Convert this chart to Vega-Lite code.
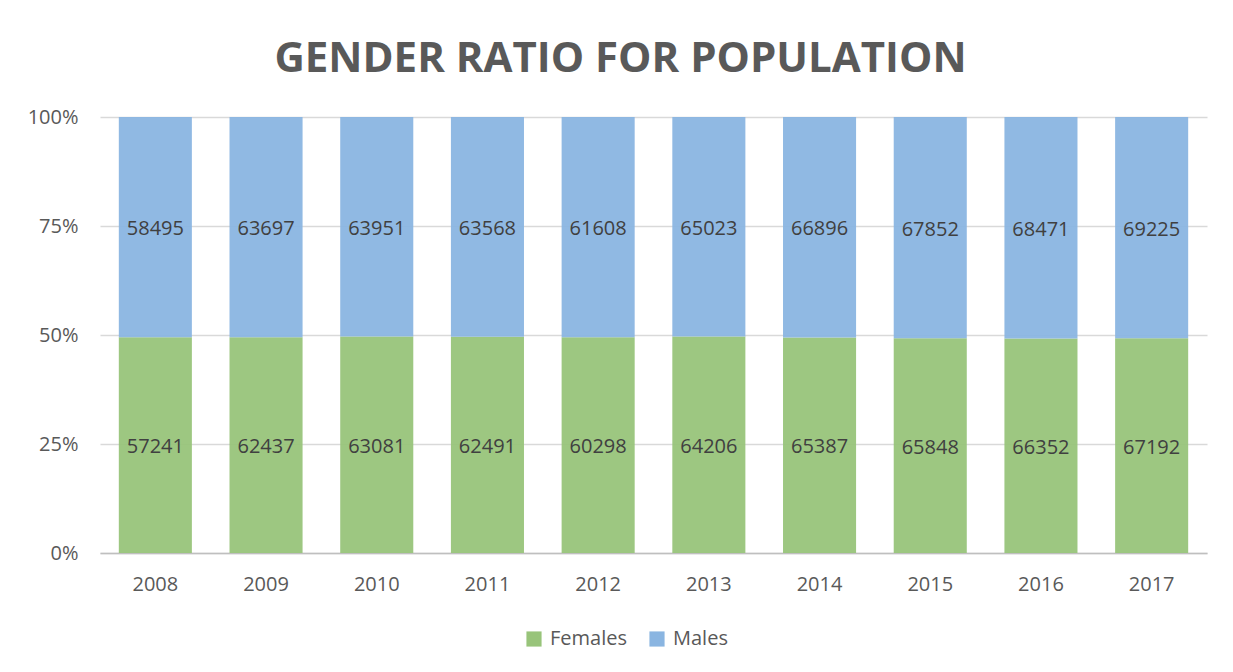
{
  "$schema": "https://vega.github.io/schema/vega-lite/v6.json",
  "autosize": {"type": "none"},
  "width": 1107,
  "height": 436,
  "padding": {"left": 100, "top": 117, "right": 26, "bottom": 119},
  "background": "white",
  "title": {
    "text": "GENDER RATIO FOR POPULATION",
    "font": "Open Sans",
    "fontSize": 42,
    "fontWeight": "bold",
    "color": "#595959",
    "anchor": "middle",
    "dx": -33,
    "dy": 51,
    "baseline": "alphabetic",
    "offset": 44
  },
  "data": {
    "values": [
      {"year": "2008", "gender": "Females", "value": 57241},
      {"year": "2008", "gender": "Males", "value": 58495},
      {"year": "2009", "gender": "Females", "value": 62437},
      {"year": "2009", "gender": "Males", "value": 63697},
      {"year": "2010", "gender": "Females", "value": 63081},
      {"year": "2010", "gender": "Males", "value": 63951},
      {"year": "2011", "gender": "Females", "value": 62491},
      {"year": "2011", "gender": "Males", "value": 63568},
      {"year": "2012", "gender": "Females", "value": 60298},
      {"year": "2012", "gender": "Males", "value": 61608},
      {"year": "2013", "gender": "Females", "value": 64206},
      {"year": "2013", "gender": "Males", "value": 65023},
      {"year": "2014", "gender": "Females", "value": 65387},
      {"year": "2014", "gender": "Males", "value": 66896},
      {"year": "2015", "gender": "Females", "value": 65848},
      {"year": "2015", "gender": "Males", "value": 67852},
      {"year": "2016", "gender": "Females", "value": 66352},
      {"year": "2016", "gender": "Males", "value": 68471},
      {"year": "2017", "gender": "Females", "value": 67192},
      {"year": "2017", "gender": "Males", "value": 69225}
    ]
  },
  "transform": [
    {"stack": "value", "groupby": ["year"], "as": ["y0", "y1"], "offset": "normalize", "sort": [{"field": "gender", "order": "ascending"}]},
    {"calculate": "(datum.y0 + datum.y1) / 2", "as": "mid"}
  ],
  "encoding": {
    "x": {
      "field": "year",
      "type": "nominal",
      "title": null,
      "scale": {"paddingInner": 0.34, "paddingOuter": 0.17},
      "axis": {
        "labelAngle": 0,
        "ticks": false,
        "domainColor": "#BFBFBF",
        "domainWidth": 1.5,
        "labelFont": "Open Sans",
        "labelFontSize": 20,
        "labelColor": "#595959",
        "labelPadding": 21
      }
    }
  },
  "layer": [
    {
      "mark": {"type": "bar", "opacity": 0.95},
      "encoding": {
        "y": {
          "field": "y0",
          "type": "quantitative",
          "title": null,
          "scale": {"domain": [0, 1]},
          "axis": {
            "values": [0, 0.25, 0.5, 0.75, 1],
            "format": ".0%",
            "domain": false,
            "ticks": false,
            "gridColor": "#D9D9D9",
            "gridWidth": 1.5,
            "labelFont": "Open Sans",
            "labelFontSize": 20,
            "labelColor": "#595959",
            "labelPadding": 22
          }
        },
        "y2": {"field": "y1"},
        "color": {
          "field": "gender",
          "type": "nominal",
          "scale": {"domain": ["Females", "Males"], "range": ["#98C47A", "#8AB5E1"]},
          "legend": {
            "title": null,
            "orient": "none",
            "direction": "horizontal",
            "legendX": 424,
            "legendY": 512,
            "symbolType": "square",
            "symbolSize": 230,
            "symbolStrokeWidth": 0,
            "symbolOpacity": 1,
            "labelFont": "Open Sans",
            "labelFontSize": 20,
            "labelColor": "#595959",
            "columnPadding": 20,
            "labelOffset": 6
          }
        }
      }
    },
    {
      "mark": {"type": "text", "font": "Open Sans", "fontSize": 20, "color": "#404040", "baseline": "middle", "dy": 2},
      "encoding": {
        "y": {"field": "mid", "type": "quantitative"},
        "text": {"field": "value", "type": "quantitative", "format": "d"}
      }
    }
  ],
  "config": {"view": {"stroke": null}}
}
